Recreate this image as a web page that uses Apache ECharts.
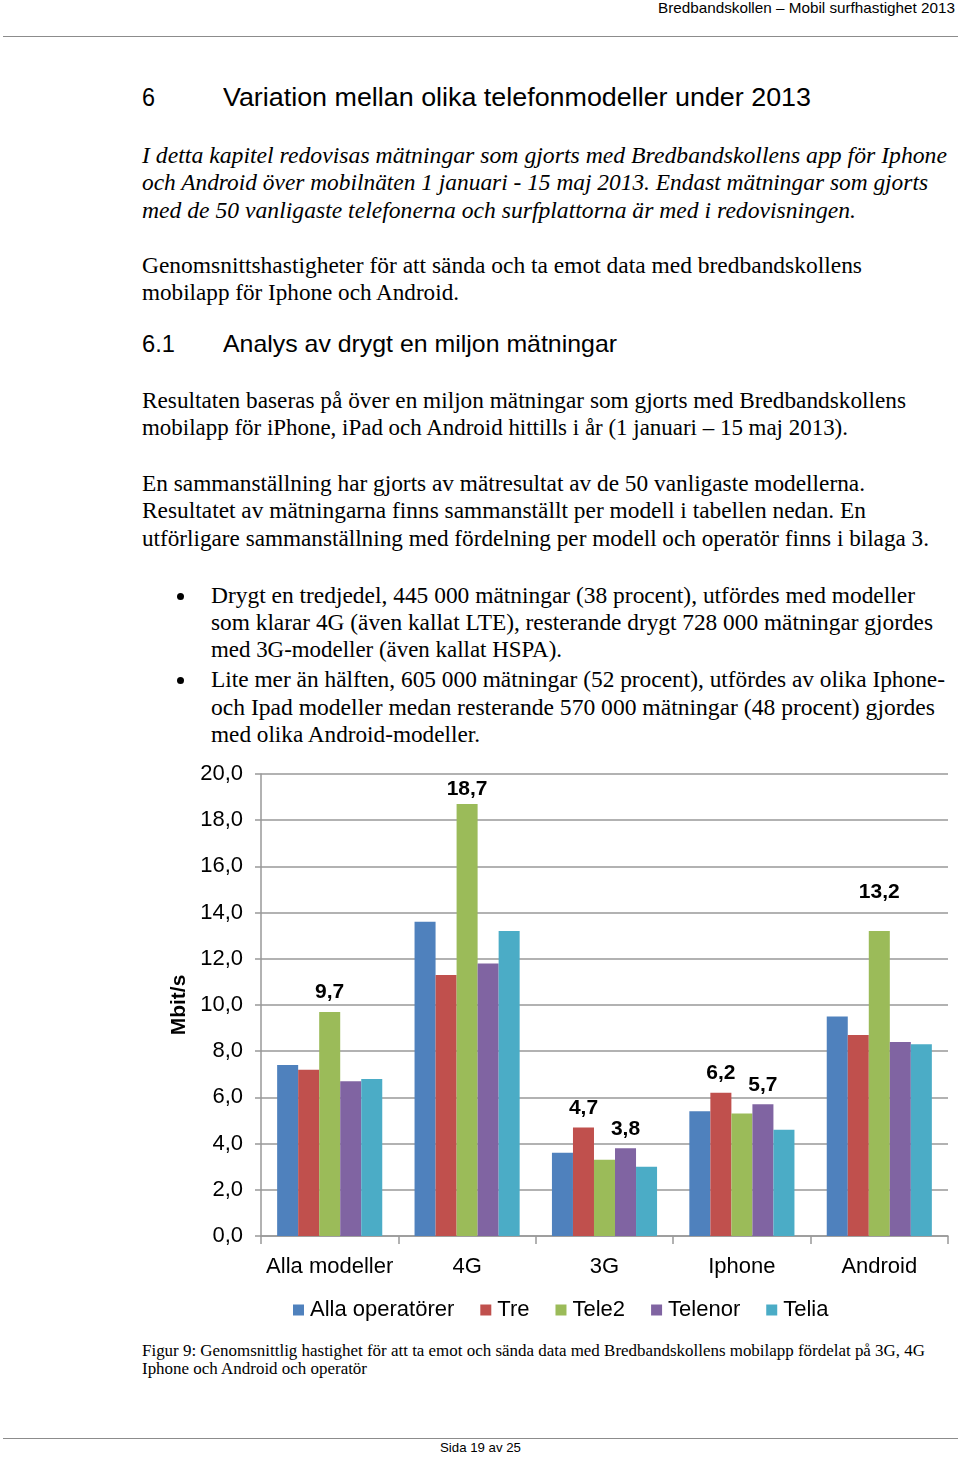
<!DOCTYPE html>
<html><head><meta charset="utf-8">
<script src="https://cdn.jsdelivr.net/npm/echarts@6/dist/echarts.min.js"></script>
<style>
html,body{margin:0;padding:0;background:#fff;}
#page{position:relative;width:960px;height:1457px;overflow:hidden;background:#fff;}
.t{position:absolute;white-space:nowrap;transform-origin:0 50%;color:#000;}
.sans{font-family:"Liberation Sans",Arial,sans-serif;}
.narrow{font-family:"Liberation Sans Narrow","Liberation Sans",Arial,sans-serif;}
.serif{font-family:"Liberation Serif","DejaVu Serif",serif;}
.it{font-style:italic;}
.hr{position:absolute;left:3px;width:955px;height:1px;background:#8c8c8c;}
.dot{position:absolute;width:7px;height:7px;border-radius:50%;background:#000;}
#chart{position:absolute;left:0;top:750px;width:960px;height:590px;}
</style></head>
<body><div id="page">
<div class="hr" style="top:36px"></div>
<div class="hr" style="top:1438px"></div>
<div id="chart"></div>
</div>
<script>
// ---- chart data ----
const categories = ['Alla modeller', '4G', '3G', 'Iphone', 'Android'];
const operators = ['Alla operatörer', 'Tre', 'Tele2', 'Telenor', 'Telia'];
const allaOperatorer = [7.4, 13.6, 3.6, 5.4, 9.5];
const tre = [7.2, 11.3, 4.7, 6.2, 8.7];
const tele2 = [9.7, 18.7, 3.3, 5.3, 13.2];
const telenor = [6.7, 11.8, 3.8, 5.7, 8.4];
const telia = [6.8, 13.2, 3.0, 4.6, 8.3];
// which bars carry a value label: [seriesIndex, categoryIndex]
const labelled = [[2,0],[2,1],[1,2],[3,2],[1,3],[3,3],[2,4]];
const yTicks = ['0,0','2,0','4,0','6,0','8,0','10,0','12,0','14,0','16,0','18,0','20,0'];
const colors = ['#4F81BD', '#C0504D', '#9BBB59', '#8064A2', '#4BACC6'];

// ---- page text ----
const textLines = [
  // [x, yCenter, targetWidth, fontSize, class, text]
  [658, 8, 297, 15, 'narrow', 'Bredbandskollen – Mobil surfhastighet 2013'],
  [142, 97, 13, 25, 'sans', '6'],
  [223, 97, 588, 25, 'sans', 'Variation mellan olika telefonmodeller under 2013'],
  [142, 156, 805, 23, 'serif it', 'I detta kapitel redovisas mätningar som gjorts med Bredbandskollens app för Iphone'],
  [142, 183, 786, 23, 'serif it', 'och Android över mobilnäten 1 januari - 15 maj 2013. Endast mätningar som gjorts'],
  [142, 211, 714, 23, 'serif it', 'med de 50 vanligaste telefonerna och surfplattorna är med i redovisningen.'],
  [142, 266, 720, 23, 'serif', 'Genomsnittshastigheter för att sända och ta emot data med bredbandskollens'],
  [142, 293, 317, 23, 'serif', 'mobilapp för Iphone och Android.'],
  [142, 343, 33, 24, 'sans', '6.1'],
  [223, 343, 394, 24, 'sans', 'Analys av drygt en miljon mätningar'],
  [142, 401, 764, 23, 'serif', 'Resultaten baseras på över en miljon mätningar som gjorts med Bredbandskollens'],
  [142, 428, 706, 23, 'serif', 'mobilapp för iPhone, iPad och Android hittills i år (1 januari – 15 maj 2013).'],
  [142, 484, 723, 23, 'serif', 'En sammanställning har gjorts av mätresultat av de 50 vanligaste modellerna.'],
  [142, 511, 724, 23, 'serif', 'Resultatet av mätningarna finns sammanställt per modell i tabellen nedan. En'],
  [142, 539, 787, 23, 'serif', 'utförligare sammanställning med fördelning per modell och operatör finns i bilaga 3.'],
  [211, 596, 704, 23, 'serif', 'Drygt en tredjedel, 445 000 mätningar (38 procent), utfördes med modeller'],
  [211, 623, 722, 23, 'serif', 'som klarar 4G (även kallat LTE), resterande drygt 728 000 mätningar gjordes'],
  [211, 650, 351, 23, 'serif', 'med 3G-modeller (även kallat HSPA).'],
  [211, 680, 734, 23, 'serif', 'Lite mer än hälften, 605 000 mätningar (52 procent), utfördes av olika Iphone-'],
  [211, 708, 724, 23, 'serif', 'och Ipad modeller medan resterande 570 000 mätningar (48 procent) gjordes'],
  [211, 735, 269, 23, 'serif', 'med olika Android-modeller.'],
  [142, 1350, 783, 16, 'serif', 'Figur 9: Genomsnittlig hastighet för att ta emot och sända data med Bredbandskollens mobilapp fördelat på  3G, 4G'],
  [142, 1368, 225, 16, 'serif', 'Iphone och Android och operatör'],
  [440, 1448, 81, 13, 'narrow', 'Sida 19 av 25']
];
const bullets = [596, 680];

const page = document.getElementById('page');
textLines.forEach(([x, y, w, fs, cls, txt]) => {
  const el = document.createElement('span');
  el.className = 't ' + cls;
  el.style.fontSize = fs + 'px';
  el.style.lineHeight = Math.round(fs * 1.2) + 'px';
  el.style.left = x + 'px';
  el.style.top = (y - Math.round(fs * 1.2) / 2) + 'px';
  el.textContent = txt;
  page.appendChild(el);
  const nat = el.getBoundingClientRect().width;
  if (nat > 0) el.style.transform = 'scaleX(' + (w / nat) + ')';
});
bullets.forEach(y => {
  const el = document.createElement('div');
  el.className = 'dot';
  el.style.left = '177px';
  el.style.top = (y - 3) + 'px';
  page.appendChild(el);
});

// ---- chart ----
const seriesValues = [allaOperatorer, tre, tele2, telenor, telia];
const fmt = v => v.toFixed(1).replace('.', ',');
const labelExtra = { '2,4': { distance: 28 }, '2,1': { distance: 4 } };
const chart = echarts.init(document.getElementById('chart'), null, { renderer: 'canvas' });
chart.setOption({
  animation: false,
  color: colors,
  textStyle: { fontFamily: '"Liberation Sans", Arial, sans-serif' },
  grid: { left: 261, right: 12, top: 24, bottom: 104, containLabel: false },
  legend: {
    left: 288, top: 544, icon: 'rect', itemWidth: 11, itemHeight: 11, itemGap: 26,
    textStyle: { fontSize: 22, color: '#000', padding: [0, 0, 0, 1] },
    data: operators
  },
  xAxis: {
    type: 'category', data: categories, boundaryGap: true,
    axisLine: { lineStyle: { color: '#999', width: 1.5 } },
    axisTick: { show: true, length: 8, lineStyle: { color: '#999', width: 1.5 } },
    axisLabel: { fontSize: 22, color: '#000', margin: 20, interval: 0 }
  },
  yAxis: {
    type: 'value', min: 0, max: 20, interval: 2,
    name: 'Mbit/s', nameLocation: 'middle', nameGap: 70, nameRotate: 90,
    nameTextStyle: { fontSize: 21, fontWeight: 'bold', color: '#000' },
    axisLine: { show: true, lineStyle: { color: '#999', width: 1.5 } },
    axisTick: { show: true, length: 6, lineStyle: { color: '#999', width: 1.5 } },
    splitLine: { show: true, lineStyle: { color: '#999', width: 1.5 } },
    axisLabel: { fontSize: 22, color: '#000', margin: 18, formatter: (v) => yTicks[Math.round(v / 2)] }
  },
  series: seriesValues.map((vals, si) => ({
    name: operators[si], type: 'bar', barGap: '0%', barCategoryGap: '23.5%',
    data: vals.map((v, ci) => {
      const isLab = labelled.some(p => p[0] === si && p[1] === ci);
      const extra = labelExtra[si + ',' + ci] || {};
      return {
        value: v,
        label: isLab ? Object.assign({
          show: true, position: 'top', distance: 9, fontSize: 21, fontWeight: 'bold', color: '#000',
          formatter: p => fmt(p.value)
        }, extra) : { show: false }
      };
    })
  }))
});
</script>
</body></html>
